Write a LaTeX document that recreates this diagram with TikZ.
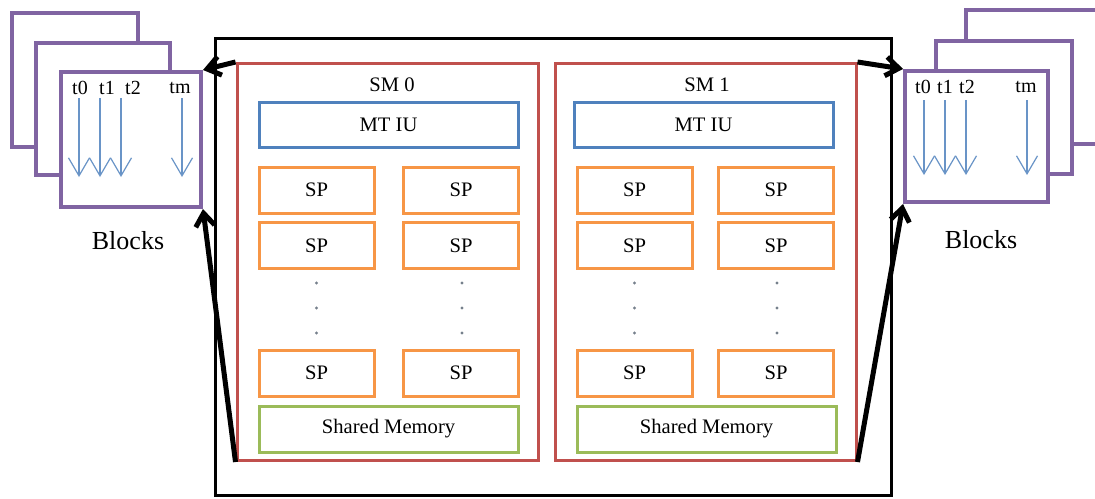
\documentclass[tikz,border=0pt]{standalone}
\usepackage{fontspec}
\setmainfont{Liberation Serif}
\usetikzlibrary{arrows.meta}
\definecolor{smRed}{HTML}{C0504D}
\definecolor{iuBlue}{HTML}{4F81BD}
\definecolor{spOrange}{HTML}{F79646}
\definecolor{memGreen}{HTML}{9BBB59}
\definecolor{blkPurple}{HTML}{8064A2}
\tikzset{
    smBox/.style={
        draw=smRed,
        line width=1.5pt,
        inner sep=0pt,
        minimum width=150.5pt,
        minimum height=198.5pt
    },
    iuBox/.style={
        draw=iuBlue,
        line width=1.5pt,
        inner sep=0pt,
        minimum width=129.5pt,
        minimum height=22.5pt,
        font=\fontsize{10.3}{12}\selectfont
    },
    spBox/.style={
        draw=spOrange,
        line width=1.5pt,
        inner sep=0pt,
        minimum width=57.5pt,
        minimum height=23pt,
        font=\fontsize{10.3}{12}\selectfont
    },
    memBox/.style={
        draw=memGreen,
        line width=1.5pt,
        inner sep=0pt,
        minimum width=129.5pt,
        minimum height=23pt,
        font=\fontsize{10.3}{12}\selectfont
    },
    blkBox/.style={
        draw=blkPurple,
        fill=white,
        line width=2pt,
        inner sep=0pt
    },
    thrArrow/.style={
        draw=iuBlue!85,
        line width=0.6pt,
        -{Straight Barb[length=9pt, width=10.5pt, line width=0.6pt]}
    },
    linkArrow/.style={
        line width=2.5pt,
        -{Straight Barb[length=6.5pt, width=9.5pt]}
    }
}

\begin{document}
\begin{tikzpicture}[x=0.5pt, y=-0.5pt]
    \clip (0,0) rectangle (1095,498);

    % GPU frame
    \node[draw, line width=1.5pt, inner sep=0pt, minimum width=338pt, minimum height=228.5pt] (gpu) at (553,266.5) {};

    % Streaming multiprocessors
    \foreach \s/\dx/\ix in {0/0/0, 1/318/315} {
        \node[smBox] (sm\s) at (387.5+\dx,262) {};
        \node[font=\fontsize{10.3}{12}\selectfont] (sm\s lbl) at (392+\ix,85) {SM \s};
        \node[iuBox] (iu\s) at (388.5+\ix,124.5) {MT IU};
        \node[spBox] (sp\s a) at (316.5+\dx,190) {SP};
        \node[spBox] (sp\s b) at (461+\ix,190) {SP};
        \node[spBox] (sp\s c) at (316.5+\dx,245.5) {SP};
        \node[spBox] (sp\s d) at (461+\ix,245.5) {SP};
        \node[spBox] (sp\s e) at (316.5+\dx,373) {SP};
        \node[spBox] (sp\s f) at (461+\ix,373) {SP};
        \node[memBox] (mem\s) at (388.5+\dx,429) {Shared Memory};
        % dots
        \foreach \y in {283,308,333} {
            \fill[gray!80!iuBlue] (316.5+\dx,\y) circle (0.8pt);
            \fill[gray!80!iuBlue] (462+\ix,\y) circle (0.8pt);
        }
    }

    % Blocks (left)
    \node[blkBox, minimum width=63pt, minimum height=67pt] (lback) at (75,80) {};
    \node[blkBox, minimum width=67pt, minimum height=66pt] (lmid) at (103,109) {};
    \node[blkBox, minimum width=70pt, minimum height=67.5pt] (lfront) at (131,139.5) {};
    \node[font=\fontsize{13}{15}\selectfont] (lblocks) at (128,241) {Blocks};

    % Blocks (right)
    \node[blkBox, minimum width=67pt, minimum height=67pt] (rback) at (1033,77) {};
    \node[blkBox, minimum width=68pt, minimum height=66.5pt] (rmid) at (1004,107.5) {};
    \node[blkBox, minimum width=71.5pt, minimum height=65.5pt] (rfront) at (976.5,136.5) {};
    \node[font=\fontsize{13}{15}\selectfont] (rblocks) at (981,240) {Blocks};

    % Threads
    \foreach \t/\x/\lx in {0/79/80, 1/100/107, 2/121/133, m/182/180} {
        \node[font=\fontsize{10}{12}\selectfont] (lt\t) at (\lx,88) {t\t};
        \coordinate (lt\t s) at (\x,98);
        \coordinate (lt\t e) at (\x,177);
        \draw[thrArrow] (lt\t s) -- (lt\t e);
    }
    \foreach \t/\x/\lx in {0/924/923, 1/945/945, 2/966/967, m/1027/1026} {
        \node[font=\fontsize{10}{12}\selectfont] (rt\t) at (\lx,87) {t\t};
        \coordinate (rt\t s) at (\x,100);
        \coordinate (rt\t e) at (\x,175);
        \draw[thrArrow] (rt\t s) -- (rt\t e);
    }

    % Links between SMs and blocks
    \draw[linkArrow] (sm0.north west) -- (lfront.north east);
    \draw[linkArrow] (sm0.south west) -- (lfront.south east);
    \draw[linkArrow] (sm1.north east) -- (rfront.north west);
    \draw[linkArrow] (sm1.south east) -- (rfront.south west);
\end{tikzpicture}
\end{document}
